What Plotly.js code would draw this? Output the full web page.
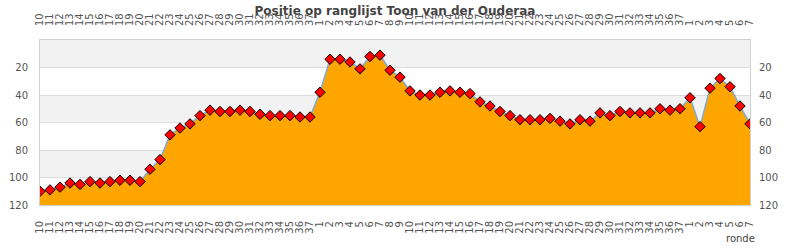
<!DOCTYPE html>
<html>
<head>
<meta charset="utf-8">
<script src="https://cdn.plot.ly/plotly-3.0.1.min.js"></script>
<style>html,body{margin:0;padding:0;background:#fff;}#chart{width:790px;height:250px;}</style>
</head>
<body>
<div id="chart"></div>
<script>
// Round labels (three seasons)
const roundLabels = [
  "10","11","12","13","14","15","16","17","18","19","20","21","22","23","24","25","26","27","28","29","30","31","32","33","34","35","36","37",
  "1","2","3","4","5","6","7","8","9","10","11","12","13","14","15","16","17","18","19","20","21","22","23","24","25","26","27","28","29","30","31","32","33","34","35","36","37",
  "1","2","3","4","5","6","7"
];
// Position on ranking
const positions = [
  110,109,107,104,105,103,104,103,102,102,103,94,87,69,64,61,55,51,52,52,51,52,54,55,55,55,56,56,
  38,14,14,16,21,12,11,22,27,37,40,40,38,37,38,39,45,48,52,55,58,58,58,57,59,61,58,59,53,55,52,53,53,53,50,51,50,42,63,35,28,34,48,
  61
];
const yTicks = [20,40,60,80,100,120];
const yMin = 0, yMax = 120;
const chartTitle = "Positie op ranglijst Toon van der Ouderaa";
const xTitle = "ronde";

const idx = roundLabels.map((_, i) => i);
const baseline = idx.map(() => yMax);

const tickFont = {family: "DejaVu Sans, sans-serif", size: 10, color: "#555"};

const traces = [
  {x: idx, y: baseline, mode: "lines", line: {width: 0, color: "rgba(0,0,0,0)"}, hoverinfo: "skip", showlegend: false},
  {x: idx, y: positions, mode: "lines+markers", fill: "tonexty", fillcolor: "#FFA500",
   line: {color: "#7fa9d6", width: 1.5},
   marker: {symbol: "diamond", size: 8, color: "#FF0000", line: {color: "#000", width: 1}},
   showlegend: false},
  {x: idx, y: positions, xaxis: "x2", yaxis: "y2", mode: "lines", line: {width: 0, color: "rgba(0,0,0,0)"}, hoverinfo: "skip", showlegend: false}
];

const bands = [];
for (let v = yMin; v < yMax; v += 40) {
  bands.push({type: "rect", xref: "paper", yref: "y", x0: 0, x1: 1, y0: v, y1: v + 20,
    fillcolor: "#f2f2f2", line: {width: 0}, layer: "below"});
}

const xCommon = {
  type: "linear", range: [0, idx.length - 1], tickmode: "array", tickvals: idx, ticktext: roundLabels,
  tickangle: -90, tickfont: tickFont, showgrid: false, zeroline: false,
  ticks: "outside", ticklen: 11, tickcolor: "rgba(0,0,0,0)",
  showline: true, linecolor: "#d0d0d0", linewidth: 1
};
const yCommon = {
  range: [yMax, yMin], tickmode: "array", tickvals: yTicks, tickfont: tickFont,
  zeroline: false, ticks: "outside", ticklen: 7, tickcolor: "rgba(0,0,0,0)",
  showline: true, linecolor: "#d0d0d0", linewidth: 1
};

const layout = {
  width: 790, height: 250,
  margin: {l: 40, r: 40, t: 40, b: 45, pad: 0},
  paper_bgcolor: "#fff", plot_bgcolor: "#fff",
  title: {text: "<b>" + chartTitle + "</b>", font: {family: "DejaVu Sans, sans-serif", size: 12, color: "#444"},
    x: 0.5, xanchor: "center", xref: "paper", y: 1 - 11/250, yanchor: "middle", yref: "container"},
  xaxis: Object.assign({}, xCommon, {side: "bottom", mirror: true}),
  xaxis2: Object.assign({}, xCommon, {side: "top", overlaying: "x", matches: "x", showline: false}),
  yaxis: Object.assign({}, yCommon, {side: "left", showgrid: true, gridcolor: "#dddddd", mirror: true, ticklen: 9}),
  yaxis2: Object.assign({}, yCommon, {side: "right", overlaying: "y", matches: "y", showgrid: false, showline: false, ticklen: 6}),
  shapes: bands,
  annotations: [{text: xTitle, xref: "paper", yref: "paper", x: 1, y: 0, xanchor: "right", yanchor: "top",
    yshift: -26, xshift: 7, showarrow: false, font: {family: "DejaVu Sans, sans-serif", size: 10, color: "#444"}}],
  showlegend: false
};

Plotly.newPlot("chart", traces, layout, {staticPlot: true, displayModeBar: false});
</script>
</body>
</html>
